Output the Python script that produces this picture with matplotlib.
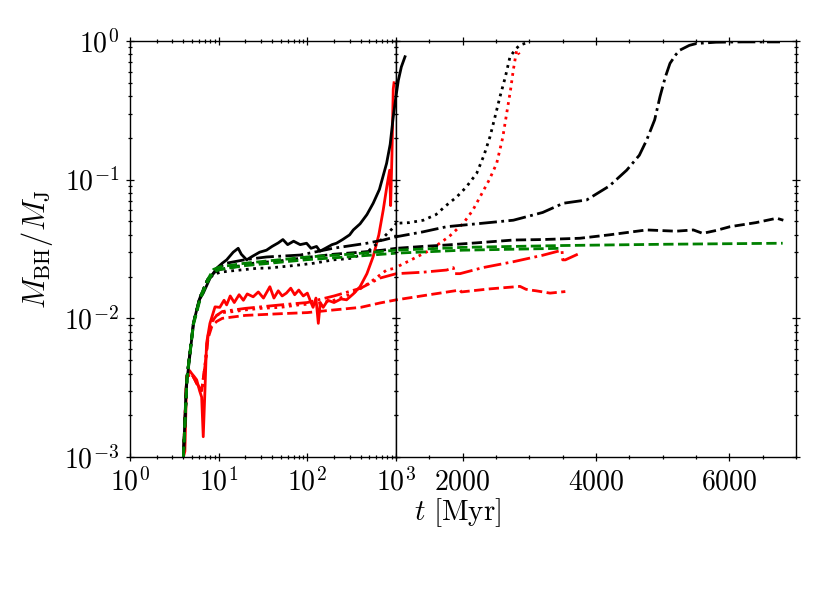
import matplotlib
matplotlib.use("Agg")
import matplotlib.pyplot as plt
from matplotlib.ticker import MultipleLocator, LogLocator, NullFormatter, FixedLocator

plt.rcParams['mathtext.fontset'] = 'cm'
plt.rcParams['font.family'] = 'DejaVu Serif'

# ---------------- data (t in Myr, M_BH / M_J) ----------------
bk_solid_t = [4.0, 4.3, 4.6, 5.2, 6.0, 6.7, 8.0, 9.5, 11, 12.3, 14.6, 16.6, 18, 20.7, 24, 29, 34.6, 40, 47, 53,
              60, 70, 83, 98, 110, 127, 139, 160, 190, 213, 250, 300, 330, 393, 470, 553, 650, 783, 860, 931,
              1000, 1035, 1080, 1135]
bk_solid_m = [0.001, 0.0032, 0.0046, 0.0092, 0.0135, 0.0152, 0.0195, 0.023, 0.025, 0.0264, 0.030, 0.032, 0.029,
              0.0264, 0.028, 0.030, 0.031, 0.033, 0.035, 0.037, 0.034, 0.036, 0.034, 0.0348, 0.032, 0.033, 0.0305,
              0.032, 0.034, 0.0348, 0.037, 0.040, 0.0434, 0.048, 0.056, 0.0676, 0.085, 0.131, 0.18, 0.284, 0.40,
              0.52, 0.65, 0.77]

bk_dot_t = [4.0, 4.4, 5.2, 6.2, 7.5, 8.7, 10.3, 14, 20, 28, 35, 50, 83, 120, 195, 300, 393, 500, 658, 800, 931,
            1010, 1200, 1410, 1600, 1750, 1910, 2050, 2210, 2320, 2410, 2490, 2560, 2640, 2710, 2800, 2860, 2960]
bk_dot_m = [0.001, 0.0038, 0.0093, 0.0143, 0.019, 0.0205, 0.0215, 0.022, 0.0225, 0.023, 0.023, 0.0235, 0.0243,
            0.025, 0.0264, 0.027, 0.0285, 0.031, 0.036, 0.041, 0.045, 0.0485, 0.049, 0.051, 0.056, 0.065, 0.075,
            0.088, 0.111, 0.15, 0.204, 0.29, 0.397, 0.55, 0.77, 0.88, 0.935, 0.97]

bk_dd_t = [4.0, 4.4, 5.2, 6.2, 7.5, 8.7, 10.3, 12.3, 20, 34.6, 83, 195, 470, 718, 1010, 1400, 1760, 2200, 2760,
           3200, 3510, 3860, 4200, 4460, 4650, 4760, 4880, 4960, 5040, 5110, 5200, 5260, 5400, 5510, 5800, 6200,
           6760]
bk_dd_m = [0.001, 0.0038, 0.0093, 0.0143, 0.019, 0.021, 0.0235, 0.025, 0.0265, 0.0277, 0.0286, 0.032, 0.0348,
           0.0367, 0.0388, 0.042, 0.0458, 0.048, 0.051, 0.058, 0.0676, 0.0714, 0.090, 0.117, 0.15, 0.193, 0.27,
           0.397, 0.55, 0.69, 0.80, 0.86, 0.93, 0.96, 0.98, 0.985, 0.985]

bk_dash_t = [4.0, 4.4, 5.2, 6.2, 7.5, 8.7, 10.3, 15, 25, 50, 100, 200, 400, 700, 1010, 1400, 1760, 2200, 2760,
             3200, 3760, 4200, 4760, 5200, 5460, 5600, 5800, 6010, 6400, 6710, 6810]
bk_dash_m = [0.001, 0.0038, 0.0093, 0.0143, 0.019, 0.021, 0.0225, 0.0235, 0.025, 0.026, 0.0275, 0.029, 0.030,
             0.031, 0.032, 0.0330, 0.0338, 0.035, 0.0367, 0.037, 0.0378, 0.040, 0.0434, 0.0425, 0.0434, 0.041,
             0.043, 0.0458, 0.049, 0.0527, 0.051]

gr1_t = [4.0, 4.4, 5.2, 6.2, 7.5, 8.7, 10.3, 20, 50, 100, 300, 1000, 2000, 3500, 5000, 6800]
gr1_m = [0.001, 0.0038, 0.0093, 0.0143, 0.019, 0.0225, 0.0235, 0.025, 0.0265, 0.0277, 0.029, 0.031, 0.0325,
         0.0335, 0.0342, 0.0348]

gr2_t = [4.0, 4.4, 5.2, 6.2, 7.5, 8.7, 10.3, 20, 50, 100, 300, 1000, 2000, 3500]
gr2_m = [0.001, 0.0037, 0.009, 0.0138, 0.0183, 0.0215, 0.0225, 0.024, 0.0254, 0.0265, 0.0278, 0.0295, 0.031,
         0.032]

rd_solid_t = [4.0, 4.16, 4.36, 4.7, 4.96, 5.3, 5.65, 6.1, 6.43, 6.7, 7.0, 7.3, 7.97, 9.1, 10.3, 11.5, 12.3, 13.5,
              15, 17, 19, 21, 24.5, 28, 32, 37.8, 42, 47, 52, 58, 65, 72, 80, 90, 100, 110, 116, 125, 133, 140,
              151, 170, 200, 240, 277, 330, 393, 470, 553, 640, 718, 790, 848, 870, 900, 931, 950]
rd_solid_m = [0.001, 0.0011, 0.0038, 0.0042, 0.004, 0.0038, 0.0036, 0.003, 0.0027, 0.0014, 0.003, 0.0066, 0.0092,
              0.0121, 0.012, 0.0135, 0.0125, 0.0145, 0.013, 0.0148, 0.0135, 0.015, 0.0143, 0.0155, 0.014, 0.0169,
              0.014, 0.0158, 0.0145, 0.0152, 0.0165, 0.0148, 0.016, 0.0145, 0.0152, 0.013, 0.012, 0.014, 0.0092,
              0.013, 0.012, 0.0135, 0.013, 0.0138, 0.0136, 0.015, 0.0169, 0.021, 0.0279, 0.040, 0.0605, 0.09,
              0.117, 0.065, 0.15, 0.45, 0.50]

rd_dot_t = [4.0, 4.36, 4.96, 5.65, 6.43, 7.0, 7.6, 8.4, 9.5, 11, 15, 20, 30, 50, 80, 130, 200, 330, 500, 783, 977,
            1200, 1510, 1800, 2010, 2150, 2260, 2400, 2510, 2600, 2660, 2720, 2760, 2810, 2850]
rd_dot_m = [0.001, 0.0038, 0.004, 0.0034, 0.003, 0.0045, 0.0075, 0.0095, 0.0105, 0.011, 0.0112, 0.0115, 0.0118,
            0.012, 0.0125, 0.0128, 0.0135, 0.0152, 0.018, 0.0223, 0.023, 0.026, 0.031, 0.039, 0.0485, 0.060,
            0.075, 0.10, 0.131, 0.20, 0.30, 0.45, 0.62, 0.86, 0.80]

rd_dd_t = [4.0, 4.36, 4.96, 5.65, 6.43, 7.0, 7.6, 8.4, 9.5, 11, 20, 50, 100, 200, 400, 658, 1010, 1400, 1760, 1860,
           1880, 1960, 2300, 2760, 3200, 3490, 3500, 3540, 3760]
rd_dd_m = [0.001, 0.0038, 0.004, 0.0034, 0.003, 0.0045, 0.0075, 0.0095, 0.0105, 0.0112, 0.0118, 0.0125, 0.013,
           0.0145, 0.0165, 0.0195, 0.021, 0.0215, 0.0223, 0.0232, 0.021, 0.021, 0.0232, 0.0256, 0.0285, 0.031,
           0.0264, 0.0264, 0.0295]

rd_dash_t = [4.0, 4.36, 4.96, 5.65, 6.43, 7.0, 7.6, 8.4, 9.5, 11, 20, 50, 100, 200, 400, 658, 1010, 1500, 1960,
             1980, 2400, 2860, 2950, 3010, 3100, 3310, 3540]
rd_dash_m = [0.001, 0.0038, 0.004, 0.0034, 0.003, 0.0045, 0.0072, 0.0088, 0.0095, 0.01, 0.0105, 0.0108, 0.011,
             0.0115, 0.012, 0.0129, 0.0136, 0.0148, 0.016, 0.0155, 0.0163, 0.017, 0.0162, 0.016, 0.0158, 0.0152,
             0.0156]

series = [
    (rd_dash_t, rd_dash_m, 'red', '--'),
    (rd_dd_t, rd_dd_m, 'red', '-.'),
    (rd_dot_t, rd_dot_m, 'red', ':'),
    (rd_solid_t, rd_solid_m, 'red', '-'),
    (bk_dot_t, bk_dot_m, 'black', ':'),
    (bk_dd_t, bk_dd_m, 'black', '-.'),
    (bk_dash_t, bk_dash_m, 'black', '--'),
    (bk_solid_t, bk_solid_m, 'black', '-'),
    (gr2_t, gr2_m, 'green', '--'),
    (gr1_t, gr1_m, 'green', '--'),
]

fig = plt.figure(figsize=(8.3, 5.93), dpi=100)
W, H = 830, 593
axL = fig.add_axes([130 / W, 1 - 457 / H, 266 / W, 416 / H])
axR = fig.add_axes([396 / W, 1 - 457 / H, 400 / W, 416 / H])

for ax in (axL, axR):
    for t, m, c, ls in series:
        ax.plot(t, m, color=c, ls=ls, lw=2.0)
    ax.set_yscale('log')
    ax.set_ylim(1e-3, 1.0)
    for s in ax.spines.values():
        s.set_linewidth(1.0)
    ax.tick_params(which='both', direction='inout', top=True, right=True, left=True, bottom=True, width=0.9)
    ax.tick_params(which='major', length=6)
    ax.tick_params(which='minor', length=3.5)
    ax.yaxis.set_minor_locator(LogLocator(base=10, subs=range(2, 10), numticks=20))
    ax.yaxis.set_minor_formatter(NullFormatter())

axL.set_xscale('log')
axL.set_xlim(1, 1000)
axL.xaxis.set_minor_locator(LogLocator(base=10, subs=range(2, 10), numticks=20))
axL.xaxis.set_minor_formatter(NullFormatter())
axL.set_xticks([1, 10, 100, 1000])
axL.set_xticklabels([r'$10^{0}$', r'$10^{1}$', r'$10^{2}$', r'$10^{3}$'])
axL.set_yticks([1e-3, 1e-2, 1e-1, 1])
axL.set_yticklabels([r'$10^{-3}$', r'$10^{-2}$', r'$10^{-1}$', r'$10^{0}$'])
axL.tick_params(axis='both', which='major', labelsize=20, pad=5)

axR.set_xlim(1000, 7000)
axR.xaxis.set_major_locator(FixedLocator([2000, 4000, 6000]))
axR.xaxis.set_minor_locator(MultipleLocator(500))
axR.set_xticklabels([r'$2000$', r'$4000$', r'$6000$'])
axR.tick_params(axis='x', which='major', labelsize=20, pad=5)
axR.tick_params(axis='y', labelleft=False)

axL.set_ylabel(r'$M_{\rm BH}/M_{\rm J}$', fontsize=22, labelpad=6)
fig.text(458 / W, 1 - 513 / H, r'$t\ [\mathrm{Myr}]$', fontsize=21, ha='center', va='center')

fig.savefig('out.png', dpi=100)
